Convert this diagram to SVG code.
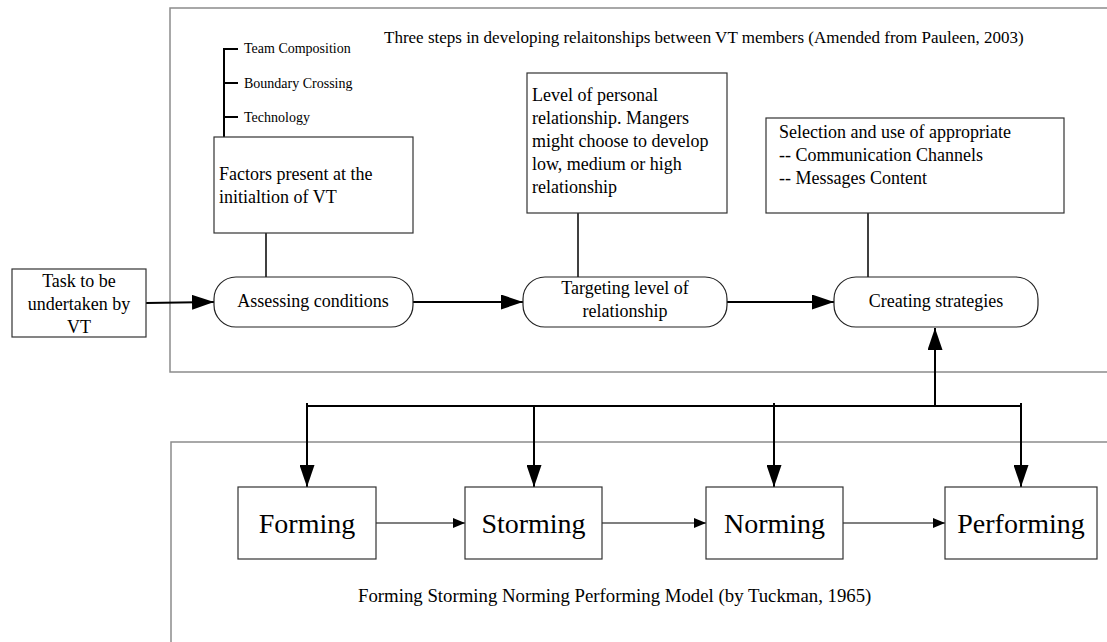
<svg xmlns="http://www.w3.org/2000/svg" width="1107" height="642" viewBox="0 0 1107 642">
  <defs>
    <marker id="bigHead" markerUnits="userSpaceOnUse" markerWidth="22" markerHeight="15" refX="22" refY="7.5" orient="auto">
      <path d="M0,0 L22,7.5 L0,15 z" fill="#000"/>
    </marker>
    <marker id="smallHead" markerUnits="userSpaceOnUse" markerWidth="12" markerHeight="10" refX="12" refY="5" orient="auto">
      <path d="M0,0 L12,5 L0,10 z" fill="#000"/>
    </marker>
  </defs>
  <style>
    text { font-family: "Liberation Serif", "Times New Roman", serif; fill: #000; }
    .frame { fill: none; stroke: #8c8c8c; stroke-width: 1.5; }
    .box { fill: #fff; stroke: #333; stroke-width: 1.2; }
    .pill { fill: #fff; stroke: #222; stroke-width: 1.2; }
    .link { fill: none; stroke: #000; stroke-width: 1.5; }
    .flow { fill: none; stroke: #000; stroke-width: 2; }
    .thin { fill: none; stroke: #000; stroke-width: 1.2; }
    .t19 { font-size: 18.8px; }
    .t18 { font-size: 18px; }
    .t17 { font-size: 17px; }
    .t14 { font-size: 14px; }
    .big { font-size: 28px; }
    .mid { text-anchor: middle; }
  </style>

  <rect width="1107" height="642" fill="#fff"/>

  <!-- Panels -->
  <g id="panel-top">
    <polyline class="frame" points="1110,8 170,8 170,372 1110,372"/>
    <text class="t17" x="384" y="43">Three steps in developing relaitonships between VT members (Amended from Pauleen, 2003)</text>
  </g>
  <g id="panel-bottom">
    <polyline class="frame" points="1110,442 171,442 171,650"/>
    <text class="t19" x="358" y="602">Forming Storming Norming Performing Model (by Tuckman, 1965)</text>
  </g>

  <!-- Connectors -->
  <g id="connectors">
    <!-- factor bracket -->
    <polyline class="flow" points="224,137 224,49"/>
    <line class="flow" x1="223" y1="49" x2="238" y2="49"/>
    <line class="flow" x1="223" y1="83" x2="238" y2="83"/>
    <line class="flow" x1="223" y1="117" x2="238" y2="117"/>
    <!-- note boxes to steps -->
    <line class="link" x1="266" y1="233" x2="266" y2="277"/>
    <line class="link" x1="578" y1="213" x2="578" y2="277"/>
    <line class="link" x1="868" y1="213" x2="868" y2="277"/>
    <!-- main flow -->
    <line class="flow" x1="146" y1="303" x2="214" y2="302" marker-end="url(#bigHead)"/>
    <line class="flow" x1="413" y1="302" x2="523" y2="302" marker-end="url(#bigHead)"/>
    <line class="flow" x1="727" y1="302" x2="834" y2="302" marker-end="url(#bigHead)"/>
    <!-- bus between the two models -->
    <line class="flow" x1="935" y1="406" x2="935" y2="328" marker-end="url(#bigHead)"/>
    <line class="flow" x1="307" y1="406" x2="1021" y2="406"/>
    <line class="flow" x1="307" y1="403" x2="307" y2="487" marker-end="url(#bigHead)"/>
    <line class="flow" x1="534" y1="406" x2="534" y2="487" marker-end="url(#bigHead)"/>
    <line class="flow" x1="774" y1="403" x2="774" y2="487" marker-end="url(#bigHead)"/>
    <line class="flow" x1="1021" y1="403" x2="1021" y2="487" marker-end="url(#bigHead)"/>
    <!-- Tuckman sequence -->
    <line class="thin" x1="376" y1="523" x2="465" y2="523" marker-end="url(#smallHead)"/>
    <line class="thin" x1="602" y1="523" x2="706" y2="523" marker-end="url(#smallHead)"/>
    <line class="thin" x1="843" y1="523" x2="945" y2="523" marker-end="url(#smallHead)"/>
  </g>

  <!-- Nodes -->
  <g id="task">
    <rect class="box" x="12" y="269" width="134" height="68"/>
    <text class="t18 mid" x="79" y="287">Task to be</text>
    <text class="t18 mid" x="79" y="310">undertaken by</text>
    <text class="t18 mid" x="79" y="333">VT</text>
  </g>

  <g id="factor-labels">
    <text class="t14" x="244" y="53">Team Composition</text>
    <text class="t14" x="244" y="88">Boundary Crossing</text>
    <text class="t14" x="244" y="122">Technology</text>
  </g>

  <g id="factors">
    <rect class="box" x="214" y="137" width="199" height="96"/>
    <text class="t18" x="219" y="180">Factors present at the</text>
    <text class="t18" x="219" y="203">initialtion of VT</text>
  </g>

  <g id="level">
    <rect class="box" x="527" y="73" width="200" height="140"/>
    <text class="t18" x="532" y="101">Level of personal</text>
    <text class="t18" x="532" y="124">relationship. Mangers</text>
    <text class="t18" x="532" y="147">might choose to develop</text>
    <text class="t18" x="532" y="170">low, medium or high</text>
    <text class="t18" x="532" y="193">relationship</text>
  </g>

  <g id="selection">
    <rect class="box" x="766" y="118" width="298" height="95"/>
    <text class="t18" x="779" y="138">Selection and use of appropriate</text>
    <text class="t18" x="779" y="161">-- Communication Channels</text>
    <text class="t18" x="779" y="184">-- Messages Content</text>
  </g>

  <g id="assessing">
    <rect class="pill" x="214" y="277" width="199" height="50" rx="22" ry="22"/>
    <text class="t18 mid" x="313" y="307">Assessing conditions</text>
  </g>

  <g id="targeting">
    <rect class="pill" x="523" y="277" width="204" height="50" rx="22" ry="22"/>
    <text class="t18 mid" x="625" y="294">Targeting level of</text>
    <text class="t18 mid" x="625" y="317">relationship</text>
  </g>

  <g id="creating">
    <rect class="pill" x="834" y="277" width="204" height="50" rx="22" ry="22"/>
    <text class="t18 mid" x="936" y="307">Creating strategies</text>
  </g>

  <g id="forming">
    <rect class="box" x="238" y="487" width="138" height="72"/>
    <text class="big mid" x="307" y="533">Forming</text>
  </g>
  <g id="storming">
    <rect class="box" x="465" y="487" width="137" height="72"/>
    <text class="big mid" x="533.5" y="533">Storming</text>
  </g>
  <g id="norming">
    <rect class="box" x="706" y="487" width="137" height="72"/>
    <text class="big mid" x="774.5" y="533">Norming</text>
  </g>
  <g id="performing">
    <rect class="box" x="945" y="487" width="152" height="72"/>
    <text class="big mid" x="1021" y="533">Performing</text>
  </g>
</svg>
